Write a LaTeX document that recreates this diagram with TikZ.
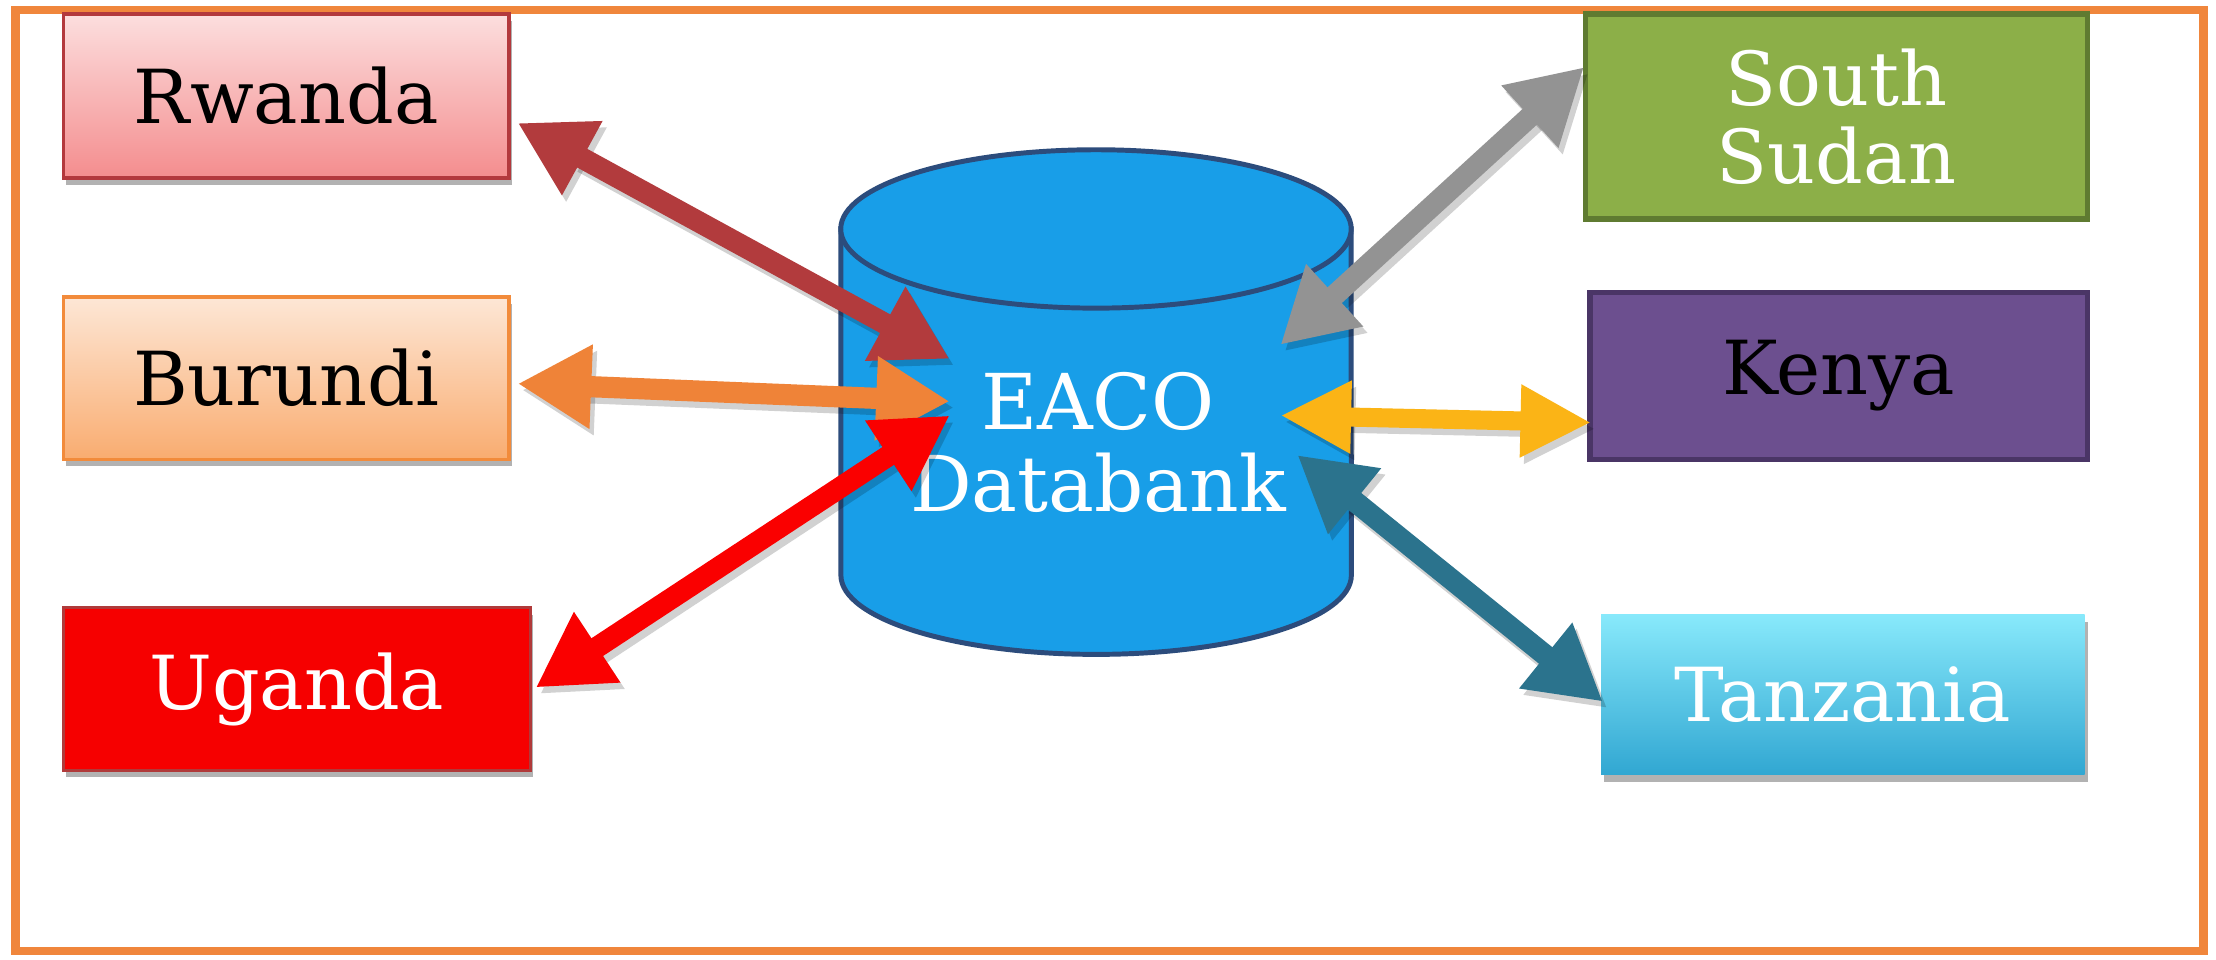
\documentclass[tikz,border=0pt]{standalone}
\usepackage{fontspec}
\setmainfont{DejaVu Serif}
\usetikzlibrary{arrows.meta,shadows,calc}
\definecolor{frameor}{HTML}{F0863C}
\definecolor{rwtop}{HTML}{FCDEDE}
\definecolor{rwbot}{HTML}{F48D8E}
\definecolor{rwline}{HTML}{B3393D}
\definecolor{butop}{HTML}{FDE7D6}
\definecolor{bubot}{HTML}{F9AC70}
\definecolor{buline}{HTML}{F28B3B}
\definecolor{ugfill}{HTML}{F60000}
\definecolor{ugline}{HTML}{B03A3A}
\definecolor{ssfill}{HTML}{8CAF48}
\definecolor{ssline}{HTML}{5F7B31}
\definecolor{kefill}{HTML}{6C4F8F}
\definecolor{keline}{HTML}{4A3566}
\definecolor{tztop}{HTML}{88E9FB}
\definecolor{tzbot}{HTML}{31A7D2}
\definecolor{dbfill}{HTML}{189EE8}
\definecolor{dbline}{HTML}{2C4C7C}
\definecolor{arw}{HTML}{B23B3D}
\definecolor{abu}{HTML}{EF8338}
\definecolor{aug}{HTML}{FA0000}
\definecolor{ass}{HTML}{939393}
\definecolor{ake}{HTML}{FBB416}
\definecolor{atz}{HTML}{2B738D}
\begin{document}
\begin{tikzpicture}[x=0.01cm,y=-0.01cm,
  country/.style={rectangle, inner sep=0pt, align=center,
    font=\fontsize{15}{15.6}\selectfont},
  shad/.style={drop shadow={shadow xshift=0.02cm, shadow yshift=-0.05cm, opacity=0.3, fill=black}},
  dbtext/.style={align=center, text=white, font=\fontsize{15.5}{16.5}\selectfont},
  conn/.style={line width=0.15cm,
    {Triangle[length=0.52cm,width=0.56cm]}-{Triangle[length=0.52cm,width=0.56cm]}},
  connsmall/.style={line width=0.135cm,
    {Triangle[length=0.50cm,width=0.48cm]}-{Triangle[length=0.50cm,width=0.48cm]}},
  connshadow/.style={draw=black, opacity=0.18, transform canvas={xshift=0.03cm,yshift=-0.045cm}}
]
\useasboundingbox (0,0) rectangle (1568,679);
\fill[white] (0,0) rectangle (1568,679);
\draw[frameor, line width=0.06cm] (11,7) rectangle (1559,673);

% database cylinder
\draw[dbline, line width=0.035cm, fill=dbfill]
  (595,162) -- (595,407) arc[start angle=180, end angle=360, x radius=1.805cm, y radius=0.56cm]
  -- (956,162) -- cycle;
\draw[dbline, line width=0.035cm, fill=dbfill] (775.5,162) ellipse [x radius=1.805cm, y radius=0.56cm];
\node[dbtext] (db) at (777,313) {EACO\\Databank};

% country boxes
\node[country, shad, draw=rwline, line width=0.025cm, top color=rwtop, bottom color=rwbot,
  minimum width=3.15cm, minimum height=1.16cm, text=black] (rw) at (202.5,68) {Rwanda};
\node[country, shad, draw=buline, line width=0.025cm, top color=butop, bottom color=bubot,
  minimum width=3.15cm, minimum height=1.15cm, text=black] (bu) at (202.5,267.5) {Burundi};
\node[country, shad, draw=ugline, line width=0.02cm, fill=ugfill,
  minimum width=3.30cm, minimum height=1.15cm, text=white] (ug) at (210,487.5) {Uganda};
\node[country, draw=ssline, line width=0.04cm, fill=ssfill,
  minimum width=3.55cm, minimum height=1.45cm, text=white] (ss) at (1299.5,82.5) {South\\Sudan};
\node[country, draw=keline, line width=0.04cm, fill=kefill,
  minimum width=3.52cm, minimum height=1.18cm, text=black] (ke) at (1301,266) {Kenya};
\node[country, shad, top color=tztop, bottom color=tzbot,
  minimum width=3.42cm, minimum height=1.13cm, text=white] (tz) at (1304,491.5) {Tanzania};

% hub end points
\coordinate (hrw) at (672,254);
\coordinate (hbu) at (672,284);
\coordinate (hug) at (672,294);
\coordinate (hss) at (906,244);
\coordinate (hke) at (906,294);
\coordinate (htz) at (918,322);
\coordinate (erw) at ($(rw.east)+(5,19)$);
\coordinate (ebu) at ($(bu.east)+(5,4)$);
\coordinate (eug) at ($(ug.east)+(3,-1)$);
\coordinate (ess) at ($(ss.west)+(1,-35)$);
\coordinate (eke) at ($(ke.west)+(3,33)$);
\coordinate (etz) at ($(tz.west)+(2,5)$);

% shadows of connectors
\draw[conn, connshadow] (erw) -- (hrw);
\draw[conn, connshadow] (ebu) -- (hbu);
\draw[conn, connshadow] (eug) -- (hug);
\draw[conn, connshadow] (ess) -- (hss);
\draw[connsmall, connshadow] (eke) -- (hke);
\draw[conn, connshadow] (etz) -- (htz);

% connectors
\draw[conn, arw] (erw) -- (hrw);
\draw[conn, abu] (ebu) -- (hbu);
\draw[conn, aug] (eug) -- (hug);
\draw[conn, ass] (ess) -- (hss);
\draw[connsmall, ake] (eke) -- (hke);
\draw[conn, atz] (etz) -- (htz);
\end{tikzpicture}
\end{document}
